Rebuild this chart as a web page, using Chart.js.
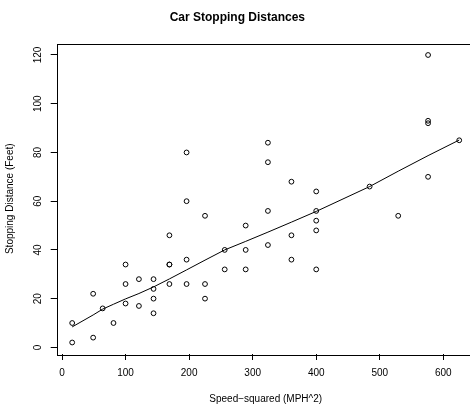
<!DOCTYPE html>
<html>
<head>
<meta charset="utf-8">
<script src="https://cdn.jsdelivr.net/npm/chart.js@4"></script>
<style>
html,body{margin:0;padding:0;background:#fff;overflow:hidden;width:470px;height:410px;}
canvas{display:block;}
</style>
</head>
<body>
<canvas id="c" width="490" height="410"></canvas>
<script>
// Speed squared (MPH^2)
const speedSq = [16,16,49,49,64,81,100,100,100,121,121,144,144,144,144,169,169,169,169,196,196,196,196,225,225,225,256,256,289,289,289,324,324,324,324,361,361,361,400,400,400,400,400,484,529,576,576,576,576,625];
// Stopping distance (feet)
const dist = [2,10,4,22,16,10,18,26,34,17,28,14,20,24,28,26,34,34,46,26,36,60,80,20,26,54,32,40,32,40,50,42,56,76,84,36,46,68,32,48,52,56,64,66,54,70,92,93,120,85];
// Smoothed curve
const smoothX = [16,49,64,81,100,121,144,169,196,225,256,289,324,361,400,484,529,576,625];
const smoothY = [8.4,13.3,15.7,17.7,19.9,22.1,24.8,28.1,31.8,35.8,40.0,43.5,47.3,51.4,55.8,66.0,72.3,78.7,85.1];
// Tick labels
const xTicks = [0,100,200,300,400,500,600];
const yTicks = [0,20,40,60,80,100,120];

const FONT = "'Liberation Sans', Arial, Helvetica, sans-serif";

const boxPlugin = {
  id: 'box',
  afterDraw(chart) {
    const {ctx, chartArea: a} = chart;
    ctx.save();
    ctx.strokeStyle = '#000';
    ctx.lineWidth = 1;
    ctx.strokeRect(Math.round(a.left) + 0.5, Math.round(a.top) + 0.5,
                   Math.round(a.right - a.left), Math.round(a.bottom - a.top));
    ctx.restore();
  }
};

new Chart(document.getElementById('c'), {
  type: 'scatter',
  data: {
    datasets: [
      {
        data: speedSq.map((x, i) => ({x: x, y: dist[i]})),
        pointStyle: 'circle',
        pointRadius: 2.4,
        pointBorderWidth: 1,
        pointBorderColor: '#000',
        pointBackgroundColor: 'rgba(0,0,0,0)',
        showLine: false
      },
      {
        data: smoothX.map((x, i) => ({x: x, y: smoothY[i]})),
        showLine: true,
        borderColor: '#000',
        borderWidth: 1,
        pointRadius: 0,
        tension: 0,
        fill: false
      }
    ]
  },
  options: {
    responsive: false,
    animation: false,
    events: [],
    layout: {padding: {left: 0, right: 15.3, top: 0, bottom: 0}},
    plugins: {
      legend: {display: false},
      tooltip: {enabled: false},
      title: {
        display: true,
        text: 'Car Stopping Distances',
        color: '#000',
        font: {family: FONT, size: 12, weight: 'bold', lineHeight: 1.2},
        padding: {top: 10, bottom: 19.1}
      }
    },
    scales: {
      x: {
        type: 'linear',
        min: -8.36,
        max: 649.36,
        afterBuildTicks: s => { s.ticks = xTicks.map(v => ({value: v})); },
        afterFit: s => { s.height = 56; },
        grid: {display: true, drawOnChartArea: false, drawTicks: true, tickLength: 6, color: '#000', tickColor: '#000'},
        border: {display: false},
        ticks: {autoSkip: false, maxRotation: 0, minRotation: 0, padding: 7, color: '#000', font: {family: FONT, size: 10}},
        title: {display: true, text: 'Speed\u2212squared (MPH^2)', color: '#000', font: {family: FONT, size: 10}, padding: {top: 0, bottom: 4.5}}
      },
      y: {
        type: 'linear',
        min: -2.72,
        max: 124.72,
        afterBuildTicks: s => { s.ticks = yTicks.map(v => ({value: v})); },
        afterFit: s => { s.width = 56.7; },
        grid: {display: true, drawOnChartArea: false, drawTicks: true, tickLength: 6, color: '#000', tickColor: '#000'},
        border: {display: false},
        ticks: {autoSkip: false, minRotation: 90, maxRotation: 90, crossAlign: 'center', padding: 4, color: '#000', font: {family: FONT, size: 10}},
        title: {display: true, text: 'Stopping Distance (Feet)', color: '#000', font: {family: FONT, size: 10}, padding: {top: 4, bottom: 0}}
      }
    }
  },
  plugins: [boxPlugin]
});
</script>
</body>
</html>
